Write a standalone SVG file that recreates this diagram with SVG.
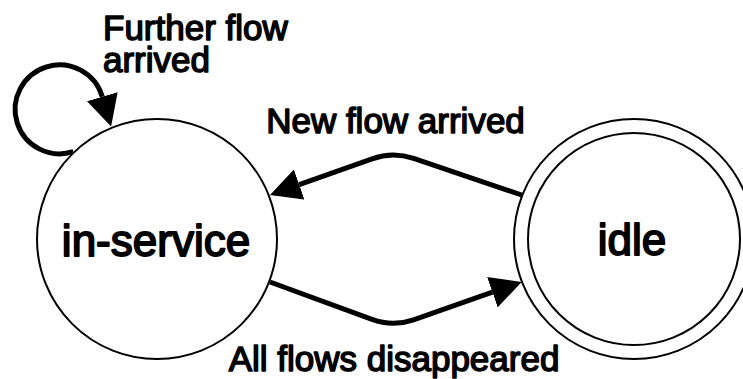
<svg xmlns="http://www.w3.org/2000/svg" width="743" height="379" viewBox="0 0 743 379">
  <style>
    .state { fill: #ffffff; stroke: #000000; stroke-width: 2; }
    .edge { fill: none; stroke: #000000; stroke-width: 5; stroke-linejoin: round; }
    .txt { font-family: "Liberation Sans", Arial, sans-serif; fill: #000000; stroke: #000000; stroke-linejoin: round; }
    .state-label { font-size: 44px; stroke-width: 1.8; text-anchor: middle; }
    .edge-label { font-size: 35px; stroke-width: 1.5; }
  </style>
  <defs>
    <marker id="arrow" markerUnits="userSpaceOnUse" markerWidth="32" markerHeight="32" refX="0" refY="16" orient="auto">
      <path d="M0,0 L31,16 L0,32 Z" fill="#000000"/>
    </marker>
  </defs>

  <rect width="743" height="379" fill="#ffffff"/>

  <!-- states -->
  <g id="node-in-service">
    <circle class="state" cx="157" cy="239" r="120"/>
    <text class="txt state-label" x="156" y="256">in-service</text>
  </g>

  <g id="node-idle">
    <circle class="state" cx="634" cy="239" r="120"/>
    <circle class="state" cx="634" cy="239" r="106"/>
    <text class="txt state-label" x="632" y="255">idle</text>
  </g>

  <!-- transitions -->
  <g id="connectors">
    <path id="edge-further-flow" class="edge" d="M73.3 151.7 A44.5 44.5 0 1 1 102.3 96.7" marker-end="url(#arrow)"/>
    <path id="edge-new-flow" class="edge" d="M521.7 195 L413.6 158.4 Q392.8 151.4 372.1 158.8 L299.2 184.6" marker-end="url(#arrow)"/>
    <path id="edge-all-gone" class="edge" d="M270 282 L372 319.4 Q392.7 327 413.5 319.8 L492.4 292.2" marker-end="url(#arrow)"/>

    <text class="txt edge-label" x="103" y="40">Further flow</text>
    <text class="txt edge-label" x="103" y="72">arrived</text>
    <text class="txt edge-label" x="395.5" y="132.5" text-anchor="middle">New flow arrived</text>
    <text class="txt edge-label" x="394" y="371" text-anchor="middle">All flows disappeared</text>
  </g>
</svg>
